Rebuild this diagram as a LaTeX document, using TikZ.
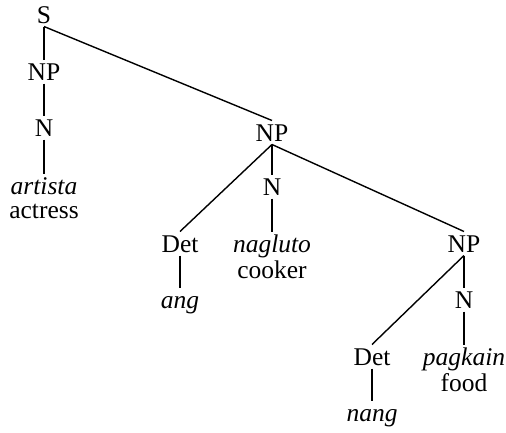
\documentclass[tikz,border=0pt]{standalone}
\usepackage{fontspec}
\setmainfont{Liberation Serif}
\begin{document}
\begin{tikzpicture}[x=1pt,y=-1pt,
  lab/.style={font=\fontsize{25.5}{25}\selectfont, inner sep=0pt, outer sep=3.5pt, anchor=base, text height=17pt, text depth=0pt},
  gl/.style={lab, font=\fontsize{25.5}{25}\selectfont\itshape},
  tr/.style={lab},
  br/.style={line width=1.4pt}]
\useasboundingbox (0,0) rectangle (506,432);
\node[lab] (S) at (44,23) {S};
\node[lab] (NPa) at (44,80) {NP};
\node[lab] (Na) at (44,136) {N};
\node[gl] (artista) at (44,194) {artista};
\node[tr] (actress) at (44,218) {actress};
\node[lab] (NPb) at (272,141) {NP};
\node[lab] (Nb) at (272,195) {N};
\node[lab] (Detb) at (180,252) {Det};
\node[gl] (ang) at (180,308) {ang};
\node[gl] (nagluto) at (272,252) {nagluto};
\node[tr] (cooker) at (272,278) {cooker};
\node[lab] (NPc) at (464,252) {NP};
\node[lab] (Nc) at (464,308) {N};
\node[lab] (Detc) at (372,365) {Det};
\node[gl] (nang) at (372,421) {nang};
\node[gl] (pagkain) at (464,365) {pagkain};
\node[tr] (food) at (464,391) {food};
\draw[br] (S.south) -- (NPa.north);
\draw[br] (S.south) -- (NPb.north);
\draw[br] (NPa.south) -- (Na.north);
\draw[br] (Na.south) -- (artista.north);
\draw[br] (NPb.south) -- (Detb.north);
\draw[br] (NPb.south) -- (Nb.north);
\draw[br] (NPb.south) -- (NPc.north);
\draw[br] (Nb.south) -- (nagluto.north);
\draw[br] (Detb.south) -- (ang.north);
\draw[br] (NPc.south) -- (Detc.north);
\draw[br] (NPc.south) -- (Nc.north);
\draw[br] (Nc.south) -- (pagkain.north);
\draw[br] (Detc.south) -- (nang.north);
\end{tikzpicture}
\end{document}
